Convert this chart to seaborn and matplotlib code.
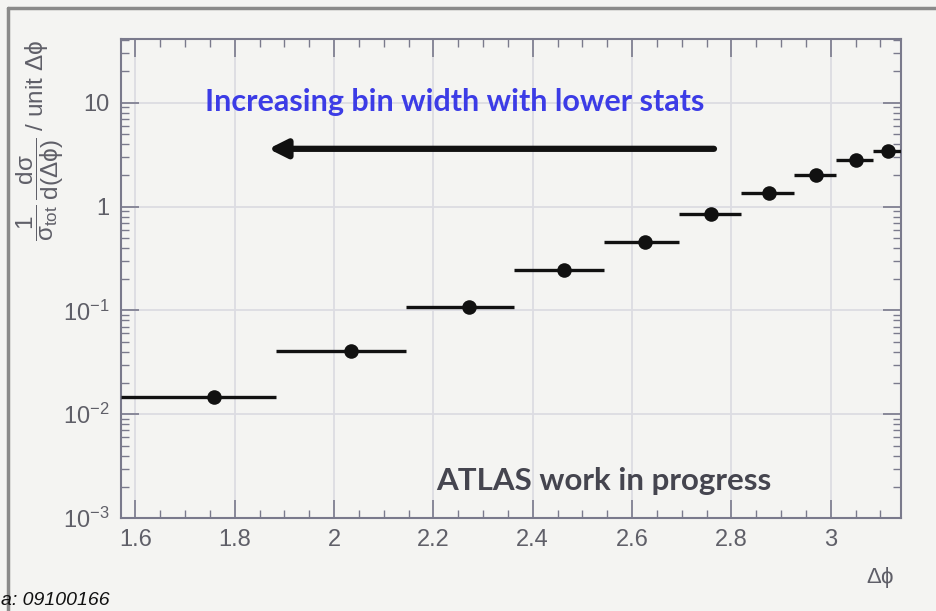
import numpy as np
import pandas as pd
import matplotlib
matplotlib.use("Agg")
import matplotlib.pyplot as plt
import seaborn as sns

# ---- data ----
bin_lo = [1.5708, 1.883, 2.145, 2.362, 2.543, 2.695, 2.820, 2.927, 3.010, 3.085]
bin_hi = [1.883, 2.145, 2.362, 2.543, 2.695, 2.820, 2.927, 3.010, 3.085, 3.1416]
x_pts = [1.758, 2.034, 2.271, 2.463, 2.626, 2.760, 2.875, 2.970, 3.051, 3.115]
y_vals = [0.0147, 0.041, 0.109, 0.243, 0.46, 0.857, 1.36, 2.03, 2.83, 3.45]

x_ticks = [1.6, 1.8, 2.0, 2.2, 2.4, 2.6, 2.8, 3.0]
x_tick_labels = ["1.6", "1.8", "2", "2.2", "2.4", "2.6", "2.8", "3"]
y_ticks = [1e-3, 1e-2, 1e-1, 1, 10]
y_tick_labels = ["$10^{-3}$", "$10^{-2}$", "$10^{-1}$", "1", "10"]

df = pd.DataFrame({"dphi": x_pts, "val": y_vals, "lo": bin_lo, "hi": bin_hi})

sns.set_theme(style="white")
plt.rcParams["font.family"] = ["Liberation Sans", "DejaVu Sans"]
plt.rcParams["mathtext.default"] = "regular"

bg = "#f4f4f2"
axcol = "#7a7a8c"
txtcol = "#5f5f68"

fig = plt.figure(figsize=(9.37, 6.11), dpi=100, facecolor=bg)
ax = fig.add_axes([0.129, 0.152, 0.8326, 0.784])
ax.set_facecolor(bg)

ax.set_yscale("log")
ax.set_xlim(1.5708, 3.1416)
ax.set_ylim(1e-3, 41)

# grid
ax.grid(True, which="major", color="#dcdce2", lw=1.3)
ax.set_axisbelow(True)

# bins (horizontal bars)
ax.hlines(df["val"], df["lo"], df["hi"], color="#111111", lw=2.4, zorder=3)
sns.scatterplot(data=df, x="dphi", y="val", ax=ax, color="#111111", s=110,
                edgecolor="#111111", linewidth=0, zorder=4, legend=False)

# ticks
ax.set_xticks(x_ticks)
ax.set_xticklabels(x_tick_labels)
ax.set_xticks(np.arange(1.6, 3.15, 0.05), minor=True)
ax.set_yticks(y_ticks)
ax.set_yticklabels(y_tick_labels)
ax.yaxis.set_minor_locator(matplotlib.ticker.LogLocator(base=10, subs=np.arange(2, 10)))
ax.yaxis.set_minor_formatter(matplotlib.ticker.NullFormatter())
ax.tick_params(which="both", direction="in", top=True, right=True, left=True, bottom=True,
               color=axcol, labelcolor=txtcol, labelsize=17)
ax.tick_params(which="major", length=13, width=1.2)
ax.tick_params(which="minor", length=6, width=1.0)
ax.tick_params(axis="x", pad=8)
ax.tick_params(axis="y", pad=8)
for s in ax.spines.values():
    s.set_color(axcol)
    s.set_linewidth(1.5)

ax.set_xlabel("")
ax.set_ylabel("")

# axis labels
fig.text(0.955, 0.055, r"$\Delta\phi$", color=txtcol, fontsize=16, ha="right", va="center")
fig.text(0.043, 0.935,
         r"$\dfrac{1}{\sigma_{tot}}\,\dfrac{d\sigma}{d(\Delta\phi)}$ / unit $\Delta\phi$",
         color=txtcol, fontsize=17.5, rotation=90, ha="center", va="top")

# annotations
ax.text(1.741, 10.2, "Increasing bin width with lower stats", color="#3c3ce6",
        fontsize=22, fontweight="bold", family=["Lato", "DejaVu Sans"], ha="left", va="center")
ax.annotate("", xy=(1.868, 3.6), xytext=(2.765, 3.6),
            arrowprops=dict(arrowstyle="-|>,head_length=0.9,head_width=0.45", color="#111111",
                            lw=4.5, shrinkA=0, shrinkB=0))
ax.text(2.205, 0.0023, "ATLAS work in progress", color="#45454f",
        fontsize=22.5, fontweight="bold", family=["Lato", "DejaVu Sans"], ha="left", va="center")

# outer frame
fig.add_artist(plt.Line2D([0.0085, 0.0085], [0.0, 0.987], transform=fig.transFigure,
                          color="#8a8a8a", lw=2.5))
fig.add_artist(plt.Line2D([0.0085, 1.0], [0.987, 0.987], transform=fig.transFigure,
                          color="#8a8a8a", lw=2.5))
fig.text(0.001, 0.003, "a: 09100166", fontsize=14, style="italic", color="#111111",
         ha="left", va="bottom")

fig.savefig("out.png", dpi=100, facecolor=bg)
